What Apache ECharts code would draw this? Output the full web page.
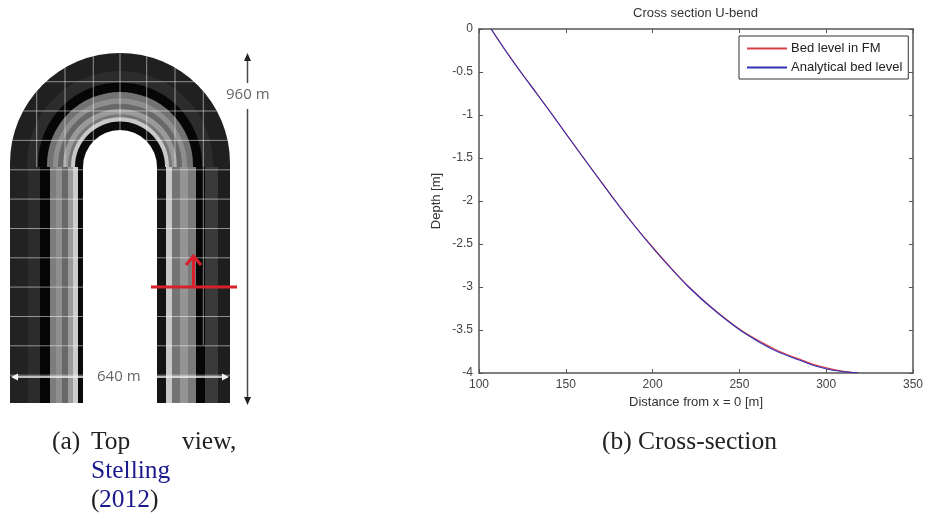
<!DOCTYPE html>
<html><head><meta charset="utf-8">
<script src="https://cdn.jsdelivr.net/npm/echarts@6/dist/echarts.min.js"></script>
<style>html,body{margin:0;padding:0;background:#fff;overflow:hidden}
#c{position:absolute;left:0;top:0;width:926px;height:516px}
#p{position:absolute;left:0;top:0;width:300px;height:412px;filter:blur(0.5px)}</style>
</head><body><div id="c"></div><div id="p"></div>
<script>
const chartTitle = 'Cross section U-bend';
const xName = 'Distance from x = 0 [m]';
const yName = 'Depth [m]';
const depth = [0, -0.25, -0.5, -0.75, -1, -1.25, -1.5, -1.75, -2, -2.25, -2.5, -2.75, -3, -3.25, -3.5, -3.65, -3.75, -3.85, -3.9, -3.95, -3.98, -4];
const bedLevelFM = [107, 115.3, 124.1, 133.3, 142.4, 151.3, 160.3, 169.4, 178.6, 188.2, 198.4, 209.3, 221, 234.7, 250.8, 263.4, 273.2, 286, 292.5, 302, 310, 318.5];
const analyticalBed = [107, 115.2, 124, 133.2, 142.3, 151.2, 160.2, 169.3, 178.5, 188, 198.2, 209, 220.7, 234.4, 250.3, 262.3, 271.8, 284.5, 291, 299.8, 308, 318.5];

// Left panel: illustration of the flume (no chart data)
const cx = 120, bottom = 403, R = 110, cyOuter = 163, cyInner = 167, cyLeg = 167;
const archBands = [[110,'#202020'],[93,'#2c2c2c'],[82,'#060606'],[73,'#727272'],[67,'#8e8e8e'],[62,'#686868'],[57,'#9a9a9a'],[52,'#787878'],[49,'#c8c8c8'],[45,'#0a0a0a']];
const legs = [
  [10,28,'#222222'],[28,40,'#2c2c2c'],[40,50,'#060606'],[50,56,'#7c7c7c'],[56,62,'#8e8e8e'],[62,68,'#686868'],[68,73,'#9a9a9a'],[73,78,'#cccccc'],[78,83,'#0a0a0a'],
  [157,166,'#141414'],[166,172,'#c8c8c8'],[172,180,'#747474'],[180,188,'#949494'],[188,196,'#7a7a7a'],[196,205,'#060606'],[205,218,'#3a3a3a'],[218,230,'#1e1e1e']
];
const gridYs = [81.7,111,140.4,169.8,199.1,228.5,257.8,287.1,316.5,345.8,375.2];
const gridXs = [36.7,65,93.3,120,146.7,175,203.3];

const g = [];
archBands.forEach(b => { const c = cyInner - (b[0]-37)/73*(cyInner-cyOuter);
  g.push({type:'rect',silent:true,shape:{x:cx-b[0],y:c-b[0],width:2*b[0],height:bottom-c+b[0],r:[b[0],b[0],0,0]},style:{fill:b[1]}}); });
legs.forEach(b => g.push({type:'rect',silent:true,shape:{x:b[0],y:cyLeg,width:b[1]-b[0],height:bottom-cyLeg},style:{fill:b[2]}}));
const gridStroke = {stroke:'rgba(255,255,255,0.5)',lineWidth:1};
gridYs.forEach(y => { const h = y >= cyOuter ? R : Math.sqrt(R*R-(cyOuter-y)*(cyOuter-y));
  g.push({type:'line',silent:true,shape:{x1:cx-h,y1:y,x2:cx+h,y2:y},style:gridStroke}); });
gridXs.forEach(x => { const top = cyOuter - Math.sqrt(R*R-(x-cx)*(x-cx));
  g.push({type:'line',silent:true,shape:{x1:x,y1:top,x2:x,y2:x>200?345:cyLeg},style:gridStroke}); });
g.push({type:'rect',silent:true,shape:{x:cx-37,y:cyInner-37,width:74,height:bottom-cyInner+38,r:[37,37,0,0]},style:{fill:'#fff'}});
// dimension arrows
const wl = {stroke:'#f4f4f4',lineWidth:1.5};
g.push({type:'line',silent:true,shape:{x1:14,y1:377,x2:83,y2:377},style:wl});
g.push({type:'line',silent:true,shape:{x1:157,y1:377,x2:226,y2:377},style:wl});
g.push({type:'polygon',silent:true,shape:{points:[[11,377],[18,373.5],[18,380.5]]},style:{fill:'#f4f4f4'}});
g.push({type:'polygon',silent:true,shape:{points:[[229,377],[222,373.5],[222,380.5]]},style:{fill:'#f4f4f4'}});
const bl = {stroke:'#4a4a4a',lineWidth:1.5};
g.push({type:'line',silent:true,shape:{x1:247.5,y1:58,x2:247.5,y2:83},style:bl});
g.push({type:'line',silent:true,shape:{x1:247.5,y1:109,x2:247.5,y2:400},style:bl});
g.push({type:'polygon',silent:true,shape:{points:[[247.5,53],[244,61],[251,61]]},style:{fill:'#222'}});
g.push({type:'polygon',silent:true,shape:{points:[[247.5,405],[244,397],[251,397]]},style:{fill:'#222'}});
// red section marker
const rl = {stroke:'#d9202c',lineWidth:3};
g.push({type:'line',silent:true,shape:{x1:151,y1:287,x2:237,y2:287},style:rl});
g.push({type:'line',silent:true,shape:{x1:193.5,y1:287,x2:193.5,y2:256},style:rl});
g.push({type:'polyline',silent:true,shape:{points:[[186,265],[193.5,256],[201,265]]},style:{stroke:'#d9202c',lineWidth:3,fill:null}});
// labels
const dimFont = '15px "Open Sans", sans-serif';
g.push({type:'text',silent:true,style:{text:'960 m',x:226,y:87,font:dimFont,fill:'#666'}});
g.push({type:'text',silent:true,style:{text:'640 m',x:97,y:369,font:dimFont,fill:'#666'}});

// captions (drawn on the main chart)
const capG = [];
const capFont = '25.5px "Liberation Serif", serif';
const cap = (t,x,y,c)=>capG.push({type:'text',silent:true,style:{text:t,x:x,y:y,font:capFont,fill:c||'#222'}});
cap('(a)',52,429); cap('Top',91,429); cap('view,',182,429);
cap('Stelling',91,458,'#1a1a8c'); cap('(',91,487); cap('2012',99,487,'#1a1a8c'); cap(')',150,487);
cap('(b) Cross-section',602,429);

const axisC = '#555555';
const sansF = '"Liberation Sans", Arial, sans-serif';
const xLine = {show:true,onZero:false,lineStyle:{color:axisC,width:1.5}};
const tick = {show:true,inside:true,length:4,lineStyle:{color:axisC,width:1}};
const lbl = {color:'#444',fontFamily:sansF,fontSize:12};
const nameStyle = {color:'#333',fontFamily:sansF,fontSize:13};
const redC = '#d8404c', blueC = '#3030b4';

const panel = echarts.init(document.getElementById('p'));
panel.setOption({animation:false,graphic:{elements:g}});

const chart = echarts.init(document.getElementById('c'));
chart.setOption({
  animation:false,
  backgroundColor:'#fff',
  title:{text:chartTitle,left:628,top:2,textStyle:{color:'#333',fontFamily:sansF,fontSize:13,fontWeight:'normal'}},
  legend:{left:739,top:36,orient:'vertical',padding:[5,6,4,8],itemWidth:40,itemHeight:2,itemGap:4,
    backgroundColor:'#fff',borderColor:'#333',borderWidth:1,
    textStyle:{color:'#222',fontFamily:sansF,fontSize:13,lineHeight:15,padding:[0,0,0,-1]},
    data:[{name:'Bed level in FM',icon:'rect',itemStyle:{color:redC,borderWidth:0}},
          {name:'Analytical bed level',icon:'rect',itemStyle:{color:blueC,borderWidth:0}}]},
  grid:{left:479,top:29,width:437,height:344},
  xAxis:[
    {type:'value',min:100,max:350,interval:50,name:xName,nameLocation:'middle',nameGap:21,
     nameTextStyle:nameStyle,axisLine:xLine,axisTick:tick,
     axisLabel:Object.assign({margin:6},lbl),splitLine:{show:false}},
    {type:'value',min:100,max:350,interval:50,position:'top',axisLine:xLine,axisTick:tick,axisLabel:{show:false},splitLine:{show:false}}
  ],
  yAxis:[
    {type:'value',min:-4,max:0,interval:0.5,name:yName,nameLocation:'middle',nameGap:36,
     nameTextStyle:nameStyle,axisLine:xLine,axisTick:tick,
     axisLabel:Object.assign({margin:6},lbl),splitLine:{show:false}},
    {type:'value',min:-4,max:0,interval:0.5,position:'right',axisLine:xLine,axisTick:tick,axisLabel:{show:false},splitLine:{show:false}}
  ],
  series:[
    {name:'Bed level in FM',type:'line',symbol:'none',silent:true,smooth:0.3,lineStyle:{color:redC,width:1.2},itemStyle:{color:redC},
     data:depth.map((d,i)=>[bedLevelFM[i],d])},
    {name:'Analytical bed level',type:'line',symbol:'none',silent:true,smooth:0.3,lineStyle:{color:blueC,width:1.1},itemStyle:{color:blueC},
     data:depth.map((d,i)=>[analyticalBed[i],d])}
  ],
  graphic:{elements:capG}
});
</script></body></html>
